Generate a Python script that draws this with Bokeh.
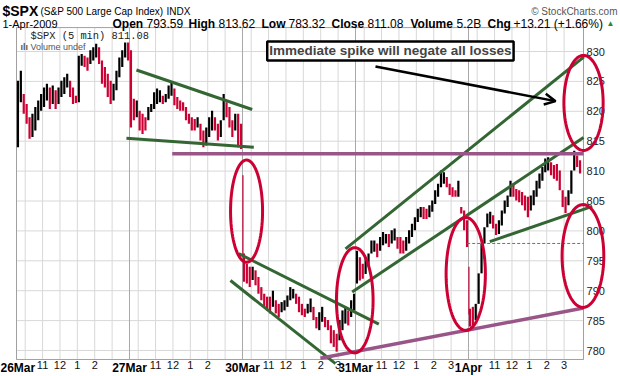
import numpy as np
from bokeh.plotting import figure
from bokeh.models import (Range1d, LinearAxis, FixedTicker, Label, Arrow, OpenHead,
                          ColumnDataSource, PolyAnnotation)
from bokeh.embed import file_html
from bokeh.resources import INLINE

# ---------------- data ----------------
days = ["26Mar", "27Mar", "30Mar", "31Mar", "1Apr"]
hour_labels = ["11", "12", "1", "2", "3"]
hour_bar_offsets = [18, 30, 42, 54, 66]        # 5-min bars after the 9:30 open
grid_bar_offsets = [6, 18, 30, 42, 54, 66]
bars_per_day = 78
price_ticks = [780, 785, 790, 795, 800, 805, 810, 815, 820, 825, 830]

# 10-minute bars (39 per day): highs and lows
high_26mar = [825.1, 826.8, 822.9, 821.2, 819.0, 819.6, 820.7, 821.8, 822.9, 824.0,
              824.6, 824.0, 824.3, 823.5, 824.0, 825.1, 825.7, 826.3, 825.1, 824.0,
              822.6, 829.3, 829.6, 829.3, 829.0, 830.2, 830.7, 831.3, 830.7, 828.5,
              827.4, 826.3, 825.1, 824.6, 826.8, 829.0, 830.2, 831.5, 831.5]
low_26mar = [814.0, 821.5, 819.6, 817.9, 815.4, 815.7, 816.8, 818.5, 820.1, 820.7,
             821.8, 820.4, 821.2, 820.4, 821.2, 822.4, 822.9, 824.0, 822.4, 821.2,
             821.4, 821.5, 827.6, 827.4, 826.8, 827.9, 828.5, 829.0, 827.9, 824.6,
             824.0, 822.4, 821.2, 821.8, 823.5, 825.7, 827.4, 829.0, 828.5]
high_27mar = [830.2, 822.1, 821.8, 820.1, 819.6, 819.0, 820.7, 821.2, 823.2, 823.8,
              823.5, 822.6, 822.9, 824.3, 824.9, 823.8, 822.4, 821.8, 821.5, 820.7,
              819.6, 819.0, 818.7, 819.0, 817.9, 816.8, 817.3, 819.0, 820.1, 819.0,
              817.9, 818.5, 822.9, 821.5, 820.7, 818.5, 819.6, 819.6, 817.9]
low_27mar = [817.3, 818.5, 819.0, 816.8, 816.2, 816.8, 818.5, 819.9, 820.4, 821.2,
             821.5, 821.2, 821.5, 822.1, 822.6, 821.0, 820.4, 820.1, 820.1, 818.5,
             817.9, 816.8, 816.8, 817.3, 815.1, 814.0, 814.3, 815.7, 816.8, 816.8,
             815.1, 815.7, 818.5, 819.0, 817.3, 815.7, 816.8, 814.0, 813.7]
high_30mar = [796.2, 794.5, 794.0, 794.0, 793.4, 792.3, 790.6, 789.5, 789.0, 789.0,
              790.0, 788.4, 787.8, 788.1, 788.4, 789.2, 790.6, 790.3, 789.5, 789.0,
              787.8, 787.0, 787.8, 788.7, 787.3, 785.6, 786.4, 787.3, 785.6, 785.1,
              784.2, 783.4, 782.8, 785.1, 786.7, 787.3, 786.7, 788.4, 789.5]
low_30mar = [791.5, 791.2, 790.6, 791.8, 790.9, 789.5, 788.4, 787.3, 786.7, 786.2,
             787.3, 786.2, 785.6, 786.4, 786.7, 787.3, 788.4, 788.7, 787.8, 786.4,
             785.9, 785.6, 786.2, 786.4, 785.1, 783.7, 783.4, 784.8, 783.9, 783.4,
             781.2, 780.6, 779.8, 781.7, 783.4, 784.5, 784.2, 785.6, 786.7]
high_31mar = [796.7, 795.6, 794.5, 795.6, 796.2, 798.4, 798.4, 797.9, 799.0, 799.8,
              799.5, 799.5, 800.1, 800.4, 799.0, 799.0, 798.4, 799.0, 800.1, 801.2,
              802.3, 803.7, 804.0, 804.0, 803.7, 804.3, 805.1, 806.8, 807.9, 810.1,
              809.8, 809.0, 807.9, 807.3, 806.8, 808.4, 804.0, 803.4, 801.8]
low_31mar = [791.2, 791.7, 792.0, 792.8, 794.0, 796.2, 796.5, 795.6, 796.7, 797.6,
             797.9, 797.3, 797.9, 798.4, 797.0, 796.2, 796.2, 796.7, 797.9, 799.0,
             800.1, 801.5, 802.3, 802.0, 802.0, 802.3, 803.2, 804.5, 805.7, 807.3,
             807.9, 807.3, 806.0, 805.7, 805.7, 805.7, 802.9, 800.1, 797.3]
high_1apr = [787.0, 787.3, 787.8, 792.9, 797.9, 800.6, 802.9, 803.2, 802.6, 801.2,
             801.8, 803.4, 805.1, 805.9, 808.4, 807.9, 807.0, 806.8, 806.5, 805.9,
             805.7, 805.9, 806.8, 808.4, 809.6, 810.7, 812.1, 812.3, 811.5, 811.0,
             811.2, 810.1, 806.8, 805.7, 806.8, 810.1, 813.4, 812.6, 811.8]
low_1apr = [784.0, 783.4, 785.1, 787.8, 792.9, 797.9, 800.6, 801.2, 800.4, 799.3,
            799.5, 800.9, 802.9, 804.0, 805.7, 805.7, 805.1, 804.8, 804.3, 803.4,
            802.3, 803.4, 804.3, 805.7, 807.1, 808.4, 809.8, 810.1, 809.3, 808.7,
            808.4, 806.8, 804.0, 803.0, 804.3, 806.2, 810.1, 810.7, 809.6]
# single opening prints (bar index, high, low) drawn as thin lines
print_x = [156.3, 312.3]
print_high = [809.3, 794.0]
print_low = [796.0, 786.0]

# hand-drawn annotations (bar index, price)
green_lines = {"x0": [82.8, 75.9, 153.4, 147.7, 227.1, 231.7, 326.7],
               "y0": [826.9, 815.5, 796.2, 791.7, 797.0, 789.8, 798.2],
               "x1": [162.7, 163.8, 250.1, 220.2, 391.7, 391.4, 397.4],
               "y1": [820.3, 814.0, 784.4, 777.8, 829.1, 815.6, 804.1]}
purple_lines = {"x0": [107.5, 209.8], "y0": [812.9, 778.7],
                "x1": [391.4, 391.4], "y1": [812.9, 787.1]}
dashed_line = {"x0": [311.1], "y0": [797.9], "x1": [391.4], "y1": [797.9]}
ellipse_cx = [158.8, 233.5, 310.1, 391.0, 391.4]
ellipse_cy = [803.3, 788.4, 792.8, 795.8, 821.4]
ellipse_w = [22.1, 25.3, 27.1, 28.8, 27.1]
ellipse_h = [17.1, 17.6, 18.9, 17.2, 15.9]
arrow_from = (247.8, 827.5)
arrow_to = (372.1, 821.7)
note_at = (258.1, 830.1)
note_text = "Immediate spike will negate all losses"

# ---------------- figure ----------------
FONT = "Liberation Sans"
W, H = 620, 376
PX_PER_BAR = 1.4487      # horizontal scale
PX_PER_PT = 5.98         # vertical scale
CHART_LEFT_PX, CHART_BASE_PX = 16, 350   # canvas pixel of bar 0 and of price 780
XL, XR, YB, YT = 0.0, 391.4, 778.5, 834.0   # chart box in data units
RED = "#cc0033"
GREEN = "#336633"
PURPLE = "#995588"

x_range = Range1d(-CHART_LEFT_PX / PX_PER_BAR, (W - CHART_LEFT_PX) / PX_PER_BAR)
y_range = Range1d(780 - (H - CHART_BASE_PX) / PX_PER_PT, 780 + CHART_BASE_PX / PX_PER_PT)
p = figure(width=W, height=H, output_backend="svg", toolbar_location=None,
           x_range=x_range, y_range=y_range, x_axis_type=None, y_axis_type=None,
           min_border=0)
p.outline_line_color = None
p.background_fill_color = "white"
p.border_fill_color = "white"

# grid lines inside the chart box
hour_grid = [d * bars_per_day + o for d in range(len(days)) for o in grid_bar_offsets]
day_grid = [d * bars_per_day for d in range(len(days))]
p.segment(x0=XL, y0=price_ticks, x1=XR, y1=price_ticks, line_color="#d8d8d8", line_width=1)
p.segment(x0=hour_grid, y0=YB, x1=hour_grid, y1=YT, line_color="#d8d8d8", line_width=1)
p.segment(x0=day_grid, y0=YB, x1=day_grid, y1=YT, line_color="#a8a8a8", line_width=1)
p.quad(left=XL, right=XR, bottom=YB, top=YT, fill_color=None, line_color="#a0a0a0", line_width=1)

# axes
yaxis = LinearAxis(fixed_location=XR, bounds=(YB, YT), ticker=FixedTicker(ticks=price_ticks),
                   axis_line_color="#a0a0a0", major_tick_line_color=None, minor_tick_line_color=None,
                   major_tick_out=0, major_tick_in=0, major_label_standoff=3,
                   major_label_text_font=FONT, major_label_text_font_size="11px",
                   major_label_text_color="#222222")
p.add_layout(yaxis, "right")

xt, xlab = [], {}
for d in range(len(days)):
    for o, lab in zip(hour_bar_offsets, hour_labels):
        if d < 2 and lab == "3":
            continue
        t = d * bars_per_day + o
        xt.append(t)
        xlab[t] = lab
axis_style = dict(fixed_location=YB, axis_line_color=None, major_tick_line_color=None,
                  minor_tick_line_color=None, major_tick_out=0, major_tick_in=0,
                  major_label_standoff=2, major_label_text_font=FONT)
xaxis = LinearAxis(ticker=FixedTicker(ticks=xt), major_label_overrides=xlab,
                   major_label_text_font_size="11px", major_label_text_color="#111111",
                   **axis_style)
p.add_layout(xaxis, "below")
day_axis = LinearAxis(ticker=FixedTicker(ticks=day_grid),
                      major_label_overrides={t: n for t, n in zip(day_grid, days)},
                      major_label_text_font_size="12px", major_label_text_font_style="bold",
                      major_label_text_color="#000000", **axis_style)
p.add_layout(day_axis, "below")

# price bars
highs = np.array(high_26mar + high_27mar + high_30mar + high_31mar + high_1apr)
lows = np.array(low_26mar + low_27mar + low_30mar + low_31mar + low_1apr)
n = len(highs)
xs = np.arange(n) * 2 + 1.0
mids = (highs + lows) / 2
colors = ["black"] + ["black" if mids[i] >= mids[i - 1] else RED for i in range(1, n)]
src = ColumnDataSource(dict(x=xs, lo=lows, hi=highs, c=colors))
p.segment(x0="x", y0="lo", x1="x", y1="hi", line_color="c", line_width=2.2, source=src)
p.segment(x0=print_x, y0=print_low, x1=print_x, y1=print_high, line_color=RED, line_width=1.2)

# annotations
def add_lines(d, color, width, dash="solid"):
    p.add_layout(Arrow(end=None, start=None, source=ColumnDataSource(d),
                       x_start="x0", y_start="y0", x_end="x1", y_end="y1",
                       line_color=color, line_width=width, line_dash=dash))

add_lines(green_lines, GREEN, 3)
add_lines(purple_lines, PURPLE, 3.5)
add_lines(dashed_line, PURPLE, 1, "3 2")

t = np.linspace(0, 2 * np.pi, 90)
for cx, cy, w, h in zip(ellipse_cx, ellipse_cy, ellipse_w, ellipse_h):
    p.add_layout(PolyAnnotation(xs=list(cx + w / 2 * np.cos(t)), ys=list(cy + h / 2 * np.sin(t)),
                                fill_color=None, fill_alpha=0, line_color=RED,
                                line_alpha=1.0, line_width=3))

p.add_layout(Arrow(end=OpenHead(size=11, line_width=2.5, line_color="black"),
                   x_start=arrow_from[0], y_start=arrow_from[1],
                   x_end=arrow_to[0], y_end=arrow_to[1], line_color="black", line_width=2.5))
p.add_layout(Label(x=note_at[0], y=note_at[1], text=note_text, text_font=FONT,
                   text_font_size="13.5px", text_font_style="bold", text_align="center",
                   text_baseline="middle", background_fill_color="white",
                   border_line_color="black", border_line_width=2.5, padding=2))

# header texts (canvas pixel positions, top-left origin)
def hdr(text, X, Y, size="11px", style="normal", color="#000000", align="left", font=FONT):
    p.add_layout(Label(x=X, y=H - Y, x_units="screen", y_units="screen", text=text,
                       text_font=font, text_font_size=size, text_font_style=style,
                       text_color=color, text_align=align, text_baseline="middle"))

hdr("$SPX", 2, 10, "14px", "bold")
hdr("(S&P 500 Large Cap Index)", 40, 11, "10px")
hdr("INDX", 166, 11, "10px")
hdr("\u00a9 StockCharts.com", 617, 11, "10px", color="#555555", align="right")
hdr("1-Apr-2009", 2, 23, "11px")
row = [("Open", "bold", 112), ("793.59", "normal", 146), ("High", "bold", 188),
       ("813.62", "normal", 218), ("Low", "bold", 261), ("783.32", "normal", 288),
       ("Close", "bold", 331), ("811.08", "normal", 367), ("Volume", "bold", 410),
       ("5.2B", "normal", 456), ("Chg", "bold", 487), ("+13.21 (+1.66%)", "normal", 513)]
for txt, st, X in row:
    hdr(txt, X, 23, "12px", st)
hdr("\u25b2", 606, 23, "8px", color="#2a8a2a")
hdr("$SPX (5 min) 811.08", 30, 35, "10.4px", font="Liberation Mono", color="#222222")
hdr("Volume undef", 30, 46, "9px", color="#555555")
hdr("\u0131l\u0131", 20, 46, "9px", "bold", color="#555555")

open("out.html", "w").write(file_html(p, INLINE))
